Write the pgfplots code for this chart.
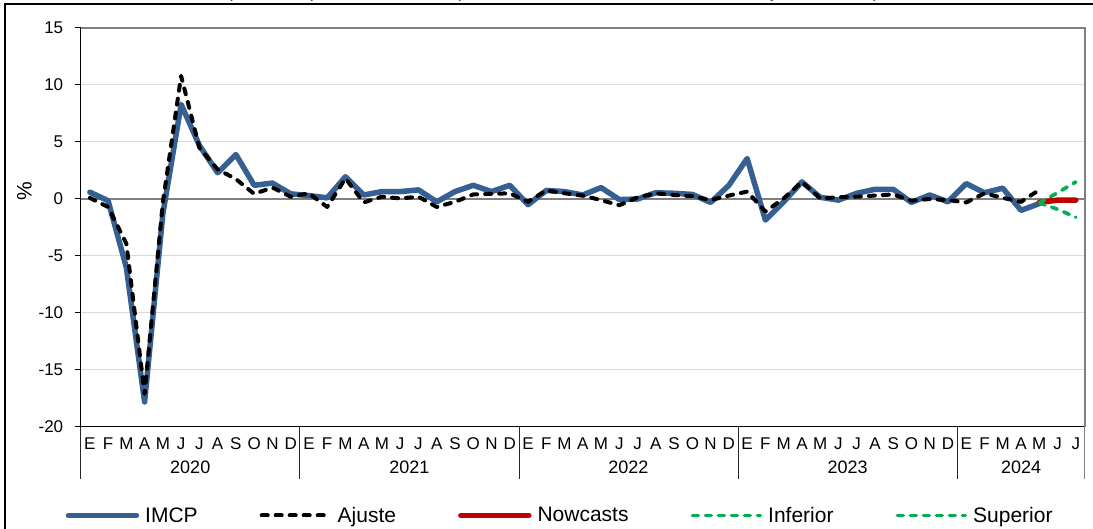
\documentclass[border=0pt]{standalone}
\usepackage{pgfplots}
\pgfplotsset{compat=1.18}
\usepackage{pgfplotstable}
\usepackage{fontspec}
\setmainfont{Liberation Sans}

\definecolor{imcp}{RGB}{55,96,146}
\definecolor{nowc}{RGB}{192,0,0}
\definecolor{banda}{RGB}{0,176,80}
\definecolor{rejilla}{RGB}{217,217,217}
\definecolor{eje}{RGB}{128,128,128}

% variacion mensual (%), enero 2020 = 0
\pgfplotstableread{
i imcp ajuste
0 0.6 0.1
1 -0.15 -0.7
2 -6.0 -3.9
3 -17.8 -17.1
4 -1.3 -0.3
5 8.3 10.8
6 4.7 4.5
7 2.3 2.6
8 3.9 1.75
9 1.2 0.45
10 1.4 1.0
11 0.45 0.2
12 0.3 0.5
13 0.1 -0.7
14 1.95 1.8
15 0.35 -0.3
16 0.65 0.2
17 0.65 0.05
18 0.8 0.2
19 -0.25 -0.7
20 0.65 -0.25
21 1.2 0.4
22 0.65 0.45
23 1.2 0.5
24 -0.5 -0.25
25 0.75 0.75
26 0.65 0.5
27 0.35 0.3
28 1.0 -0.1
29 -0.05 -0.55
30 0.0 0.15
31 0.55 0.5
32 0.5 0.35
33 0.4 0.25
34 -0.3 -0.1
35 1.2 0.3
36 3.55 0.65
37 -1.85 -1.1
38 -0.25 0.05
39 1.5 1.5
40 0.15 0.05
41 -0.1 0.15
42 0.5 0.2
43 0.85 0.3
44 0.85 0.4
45 -0.3 -0.15
46 0.35 0.0
47 -0.25 -0.1
48 1.35 -0.3
49 0.55 0.5
50 0.95 0.1
51 -1.0 -0.25
52 -0.4 0.8
}\serie

\begin{document}
\begin{tikzpicture}
\begin{axis}[
    at={(0pt,0pt)}, anchor=south west,
    scale only axis, width=1004.3pt, height=399pt,
    xmin=-0.5, xmax=54.5, ymin=-20, ymax=15,
    axis x line*=bottom, axis y line*=left,
    axis line style={black, line width=1pt},
    clip=false,
    xtick={0,...,54},
    xticklabels={E,F,M,A,M,J,J,A,S,O,N,D,E,F,M,A,M,J,J,A,S,O,N,D,E,F,M,A,M,J,J,A,S,O,N,D,E,F,M,A,M,J,J,A,S,O,N,D,E,F,M,A,M,J,J},
    ytick={-20,-15,...,15},
    tick align=outside, major tick length=6pt,
    x tick style={draw=none},
    y tick style={black, line width=1pt},
    ymajorgrids, major grid style={rejilla, line width=1pt},
    tick label style={font=\fontsize{17}{20}\selectfont},
    /pgf/number format/assume math mode=true,
    xticklabel style={anchor=base, yshift=-17pt},
    yticklabel style={xshift=-8pt},
    ylabel={\%}, ylabel style={font=\fontsize{21}{24}\selectfont, at={(ticklabel cs:0.59)}},
    legend columns=5,
    legend style={at={(axis cs:-0.5,-20)}, anchor=west, xshift=-15.2pt, yshift=-88.5pt,
        draw=none, fill=none, inner sep=0pt, font=\fontsize{21}{25}\selectfont,
        nodes={inner xsep=3pt, inner ysep=1pt},
        /tikz/every odd column/.append style={column sep=3pt},
        /tikz/every even column/.append style={column sep=59pt}},
    legend image code/.code={\draw[#1] (0pt,0pt) -- (68pt,0pt);},
]
\draw[eje, line width=1.2pt] (axis cs:-0.5,0) -- (axis cs:54.5,0);
\draw[eje, line width=1.2pt] (axis cs:-0.5,15) -- (axis cs:54.5,15) -- (axis cs:54.5,-20);

\addplot[imcp, line width=5.5pt, line join=round, line cap=round] table[x=i, y=imcp] {\serie};
\addplot[black, line width=4pt, line cap=round, line join=round, dash pattern=on 6pt off 8pt] table[x=i, y=ajuste] {\serie};
\addplot[nowc, line width=5.5pt, line cap=round] coordinates {(52,-0.3) (53,-0.1) (54,-0.1)};
\addplot[banda, line width=3.6pt, line cap=round, dash pattern=on 6pt off 7pt] coordinates {(52,-0.35) (53,-0.9) (54,-1.6)};
\addplot[banda, line width=3.6pt, line cap=round, dash pattern=on 6pt off 7pt] coordinates {(52,-0.35) (53,0.55) (54,1.5)};
\legend{IMCP,Ajuste,Nowcasts,Inferior,Superior}

% separadores y etiquetas de año
\draw[black!85, line width=0.8pt] (axis cs:-0.5,-20) -- ++(0pt,-52pt);
\draw[black!85, line width=0.8pt] (axis cs:11.5,-20) -- ++(0pt,-52pt);
\draw[black!85, line width=0.8pt] (axis cs:23.5,-20) -- ++(0pt,-52pt);
\draw[black!85, line width=0.8pt] (axis cs:35.5,-20) -- ++(0pt,-52pt);
\draw[black!85, line width=0.8pt] (axis cs:47.5,-20) -- ++(0pt,-52pt);
\draw[eje, line width=1pt] (axis cs:54.5,-20) -- ++(0pt,-52pt);
\node[anchor=base, yshift=-47pt, font=\fontsize{18}{21}\selectfont] at (axis cs:5.5,-20) {2020};
\node[anchor=base, yshift=-47pt, font=\fontsize{18}{21}\selectfont] at (axis cs:17.5,-20) {2021};
\node[anchor=base, yshift=-47pt, font=\fontsize{18}{21}\selectfont] at (axis cs:29.5,-20) {2022};
\node[anchor=base, yshift=-47pt, font=\fontsize{18}{21}\selectfont] at (axis cs:41.5,-20) {2023};
\node[anchor=base, yshift=-47pt, font=\fontsize{18}{21}\selectfont] at (axis cs:51,-20) {2024};
\end{axis}
% titulo (recortado por el borde superior) y marco
\node[anchor=base, font=\fontsize{18}{21}\selectfont] at (472.3pt,429pt)
    {(variación porcentual con respecto al mes anterior, enero de 2020 a julio de 2024)};
\draw[black, line width=1.2pt] (-75.7pt,423pt) rectangle (1030pt,-120pt);
\pgfresetboundingbox
\useasboundingbox (-80.7pt,427pt) rectangle (1012.3pt,-102pt);
\end{tikzpicture}
\end{document}
